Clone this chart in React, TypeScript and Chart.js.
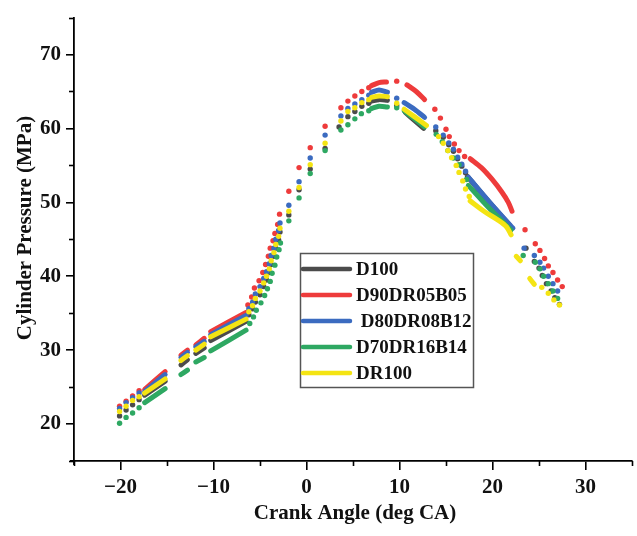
import React, { useEffect, useRef } from "react";
import { Chart, registerables } from "chart.js";

Chart.register(...registerables);

// ---------- data ----------
const SERIES_NAMES = ["D100", "D90DR05B05", " D80DR08B12", "D70DR16B14", "DR100"];

const X_MIN = -25, X_MAX = 35, X_STEP = 5;
const Y_MIN = 15, Y_MAX = 75, Y_STEP = 5;
const X_TITLE = "Crank Angle (deg CA)";
const Y_TITLE = "Cylinder Pressure (MPa)";

// D100 (black)
const d100Dots = [
  [-20.1, 21.1], [-19.4, 21.9], [-18.7, 22.6], [-18.0, 23.3],
  [-6.2, 34.8], [-5.8, 35.6], [-5.5, 36.5], [-5.0, 37.5], [-4.6, 38.6], [-4.3, 39.5], [-4.0, 40.5],
  [-3.8, 41.6], [-3.5, 42.7], [-3.3, 43.8], [-3.0, 44.9], [-2.85, 46.0], [-1.9, 48.3],
  [-0.8, 51.7], [0.4, 54.5], [2.0, 57.3], [3.5, 60.2], [4.45, 61.6], [5.2, 62.3], [5.95, 63.0], [6.7, 63.4],
  [9.7, 63.1],
  [13.9, 59.7], [14.7, 58.8], [15.3, 57.8], [15.8, 56.9], [16.25, 55.9], [16.7, 54.9], [17.1, 54.0],
  [23.6, 43.8], [24.5, 42.0], [25.0, 41.1], [25.35, 40.1], [25.8, 39.0], [26.3, 38.0], [26.7, 37.1], [27.2, 36.2],
];
const d100Runs = [
  [[-17.4, 23.9], [-15.2, 25.8]],
  [[-13.5, 28.0], [-12.8, 28.7]],
  [[-11.9, 29.55], [-11.0, 30.3]],
  [[-10.3, 31.3], [-6.5, 33.9]],
  [[7.0, 63.7], [7.8, 63.9], [8.7, 63.8]],
  [[10.6, 62.2], [11.6, 61.1], [12.6, 60.0]],
  [[17.3, 53.5], [19.6, 50.1], [21.85, 46.9]],
];

// D90DR05B05 (red)
const d90Dots = [
  [-20.1, 22.4], [-19.4, 23.1], [-18.7, 23.8], [-18.0, 24.5],
  [-6.3, 36.1], [-5.9, 37.2], [-5.6, 38.4], [-5.1, 39.4], [-4.7, 40.5], [-4.4, 41.6], [-4.1, 42.7],
  [-3.9, 43.8], [-3.6, 44.8], [-3.4, 45.8], [-3.1, 47.0], [-2.9, 48.4], [-1.9, 51.5],
  [-0.8, 54.7], [0.4, 57.4], [2.0, 60.3], [3.7, 62.8], [4.45, 63.7], [5.2, 64.4], [5.95, 65.0], [6.7, 65.5],
  [9.7, 66.4],
  [13.8, 62.6], [14.4, 61.4], [15.0, 59.9], [15.35, 58.9], [15.9, 57.9], [16.4, 57.0], [17.0, 56.2],
  [23.5, 46.3], [24.6, 44.4], [25.1, 43.5], [25.6, 42.4], [26.0, 41.4], [26.5, 40.5], [27.0, 39.5], [27.5, 38.6],
];
const d90Runs = [
  [[-17.4, 24.7], [-15.2, 27.1]],
  [[-13.5, 29.3], [-12.8, 30.0]],
  [[-11.9, 30.7], [-11.0, 31.6]],
  [[-10.3, 32.5], [-6.5, 35.1]],
  [[7.0, 65.8], [7.8, 66.2], [8.6, 66.3]],
  [[10.8, 65.9], [11.8, 65.0], [12.7, 63.9]],
  [[17.6, 55.9], [18.8, 54.7], [19.9, 53.2], [21.0, 51.4], [21.7, 50.0], [22.1, 48.8]],
];

// D80DR08B12 (blue)
const d80Dots = [
  [-20.1, 22.1], [-19.4, 22.9], [-18.7, 23.55], [-18.0, 24.2],
  [-6.2, 35.6], [-5.8, 36.5], [-5.5, 37.6], [-5.0, 38.6], [-4.6, 39.7], [-4.3, 40.6], [-4.0, 41.7],
  [-3.8, 42.8], [-3.5, 43.8], [-3.3, 45.0], [-3.0, 46.2], [-2.85, 47.2], [-1.9, 49.6],
  [-0.8, 52.8], [0.4, 56.0], [2.0, 59.1], [3.7, 61.7], [4.45, 62.7], [5.2, 63.3], [5.95, 63.9], [6.7, 64.5],
  [9.7, 64.1],
  [13.9, 60.2], [14.7, 59.1], [15.3, 58.05], [15.8, 57.2], [16.25, 56.1], [16.7, 55.15], [17.1, 54.2],
  [23.4, 43.8], [24.5, 42.8], [25.1, 41.9], [25.5, 41.1], [26.0, 40.0], [26.5, 39.0], [27.0, 38.0],
];
const d80Runs = [
  [[-17.4, 24.4], [-15.2, 26.7]],
  [[-13.5, 29.0], [-12.8, 29.7]],
  [[-11.9, 30.45], [-11.0, 31.2]],
  [[-10.3, 32.1], [-6.5, 34.7]],
  [[7.0, 64.9], [7.8, 65.2], [8.7, 64.9]],
  [[10.5, 63.5], [11.6, 62.6], [12.7, 61.5]],
  [[17.4, 53.4], [19.7, 50.0], [22.2, 46.5]],
];

// D70DR16B14 (green)
const d70Dots = [
  [-20.1, 20.1], [-19.4, 20.9], [-18.7, 21.5], [-18.0, 22.2],
  [-6.1, 33.6], [-5.7, 34.5], [-5.4, 35.4], [-4.9, 36.4], [-4.5, 37.4], [-4.2, 38.3], [-3.9, 39.3],
  [-3.7, 40.4], [-3.4, 41.5], [-3.2, 42.6], [-2.95, 43.6], [-2.8, 44.5], [-1.9, 47.5],
  [-0.8, 50.6], [0.4, 53.9], [2.0, 57.0], [3.7, 59.8], [4.45, 60.5], [5.2, 61.3], [5.9, 62.0], [6.7, 62.4],
  [9.7, 62.8],
  [13.95, 59.2], [14.6, 58.2], [15.2, 57.0], [15.8, 56.0], [16.4, 55.1], [17.2, 53.1],
  [23.3, 42.8], [24.6, 41.9], [25.1, 41.0], [25.5, 40.0], [26.0, 39.0], [26.5, 38.0], [27.0, 37.0],
];
const d70Runs = [
  [[-17.4, 22.9], [-15.2, 24.8]],
  [[-13.5, 26.7], [-12.8, 27.3]],
  [[-11.9, 28.4], [-11.0, 29.0]],
  [[-10.3, 29.9], [-6.5, 32.7]],
  [[7.0, 62.7], [7.8, 63.0], [8.7, 62.9]],
  [[10.5, 62.4], [11.6, 61.3], [12.7, 60.2]],
  [[17.4, 52.3], [19.5, 49.4], [22.0, 46.25]],
];

// DR100 (yellow)
const dr100Dots = [
  [-20.1, 21.7], [-19.4, 22.4], [-18.7, 23.2], [-18.0, 23.7],
  [-6.2, 35.2], [-5.8, 36.0], [-5.5, 37.0], [-5.0, 38.0], [-4.6, 39.1], [-4.3, 40.0], [-4.0, 41.0],
  [-3.8, 42.1], [-3.5, 43.2], [-3.3, 44.3], [-3.0, 45.4], [-2.85, 46.5], [-1.9, 48.8],
  [-0.8, 52.0], [0.4, 55.1], [2.0, 58.0], [3.7, 61.0], [4.45, 62.3], [5.2, 62.8], [5.95, 63.5], [6.7, 63.9],
  [9.7, 63.4],
  [14.2, 58.9], [14.7, 58.0], [15.2, 57.0], [15.6, 56.05], [16.1, 55.0], [16.4, 54.05], [16.8, 52.9], [17.1, 51.8], [17.5, 50.8],
  [25.3, 38.5], [26.0, 37.7], [26.6, 36.8], [27.2, 36.1],
];
const dr100Runs = [
  [[-17.4, 24.2], [-15.2, 26.1]],
  [[-13.5, 28.6], [-12.8, 29.25]],
  [[-11.9, 30.0], [-11.0, 30.8]],
  [[-10.3, 31.8], [-6.5, 34.2]],
  [[7.0, 64.2], [7.8, 64.4], [8.7, 64.3]],
  [[10.5, 62.6], [11.6, 61.6], [12.9, 60.4]],
  [[17.6, 50.2], [19.2, 48.7], [20.6, 47.6], [21.5, 46.7], [22.0, 45.6]],
  [[22.55, 42.7], [23.0, 42.1]],
  [[24.0, 39.7], [24.5, 38.9]],
];

const SERIES_DOTS = [d100Dots, d90Dots, d80Dots, d70Dots, dr100Dots];
const SERIES_RUNS = [d100Runs, d90Runs, d80Runs, d70Runs, dr100Runs];

// ---------- styles ----------
const COLORS = ["#4b4b4b", "#ee3b3b", "#3b6bc0", "#2ea862", "#f4e413"];
const SERIF = "'Liberation Serif', 'Times New Roman', serif";

const toPoints = (pts: number[][]) => pts.map(([x, y]) => ({ x, y }));
const toRunPoints = (runs: number[][][]) => {
  const out: { x: number; y: number | null }[] = [];
  runs.forEach((r, i) => {
    if (i > 0) out.push({ x: r[0][0], y: null });
    r.forEach(([x, y]) => out.push({ x, y }));
  });
  return out;
};

const decorPlugin = {
  id: "decor",
  afterDraw(chart: any) {
    const { ctx, chartArea } = chart;
    const xs = chart.scales.x;
    const ys = chart.scales.y;
    ctx.save();
    // axis corner overhang
    ctx.strokeStyle = "#000";
    ctx.lineWidth = 1.8;
    ctx.beginPath();
    ctx.moveTo(chartArea.left - 4, chartArea.bottom);
    ctx.lineTo(chartArea.left, chartArea.bottom);
    ctx.moveTo(chartArea.left, chartArea.bottom);
    ctx.lineTo(chartArea.left, chartArea.bottom + 4);
    ctx.stroke();

    // minor ticks
    ctx.lineWidth = 1.6;
    xs.ticks.forEach((t: any) => {
      if (t.value % 10 !== 0) {
        const px = Math.round(xs.getPixelForValue(t.value)) + 0.5;
        ctx.beginPath();
        ctx.moveTo(px, chartArea.bottom);
        ctx.lineTo(px, chartArea.bottom + 5);
        ctx.stroke();
      }
    });
    ys.ticks.forEach((t: any) => {
      if (t.value % 10 !== 0) {
        const py = Math.round(ys.getPixelForValue(t.value)) + 0.5;
        ctx.beginPath();
        ctx.moveTo(chartArea.left, py);
        ctx.lineTo(chartArea.left - 5, py);
        ctx.stroke();
      }
    });

    // axis titles
    ctx.fillStyle = "#111";
    ctx.font = `bold 21px ${SERIF}`;
    ctx.textAlign = "center";
    ctx.textBaseline = "middle";
    ctx.fillText(X_TITLE, 355, 514);
    ctx.save();
    ctx.translate(26, 228);
    ctx.rotate(-Math.PI / 2);
    ctx.fillText(Y_TITLE, 0, 0);
    ctx.restore();

    // legend
    const bx = 300.5, by = 253.5, bw = 173, bh = 134;
    ctx.strokeStyle = "#555";
    ctx.lineWidth = 1.5;
    ctx.strokeRect(bx, by, bw, bh);
    const rowY0 = 269, rowDy = 26;
    ctx.font = `bold 19px ${SERIF}`;
    ctx.textAlign = "left";
    SERIES_NAMES.forEach((name, i) => {
      const ry = rowY0 + i * rowDy;
      ctx.strokeStyle = COLORS[i];
      ctx.lineWidth = 4.5;
      ctx.lineCap = "round";
      ctx.beginPath();
      ctx.moveTo(303, ry);
      ctx.lineTo(350, ry);
      ctx.stroke();
      ctx.fillStyle = "#111";
      ctx.fillText(name, 356, ry + 1);
    });
    ctx.restore();
  },
};

export default function App() {
  const canvasRef = useRef<HTMLCanvasElement | null>(null);

  useEffect(() => {
    if (!canvasRef.current) return;
    const datasets: any[] = [];
    SERIES_NAMES.forEach((name, i) => {
      datasets.push({
        type: "line",
        label: name.trim() + " runs",
        data: toRunPoints(SERIES_RUNS[i]),
        borderColor: COLORS[i],
        backgroundColor: COLORS[i],
        borderWidth: 5,
        borderCapStyle: "round",
        borderJoinStyle: "round",
        pointRadius: 0,
        showLine: true,
        spanGaps: false,
        tension: 0.3,
        fill: false,
        order: (5 - i) * 2,
      });
      datasets.push({
        type: "scatter",
        label: name.trim(),
        data: toPoints(SERIES_DOTS[i]),
        backgroundColor: COLORS[i],
        borderColor: COLORS[i],
        borderWidth: 0,
        pointRadius: 2.7,
        pointHoverRadius: 2.7,
        showLine: false,
        order: (5 - i) * 2,
      });
    });

    const tickFont = { family: SERIF, size: 21, weight: "bold" as const };

    const chart = new Chart(canvasRef.current, {
      type: "scatter",
      data: { datasets },
      plugins: [decorPlugin],
      options: {
        animation: false,
        responsive: false,
        devicePixelRatio: 1,
        layout: { padding: { left: 0, right: 3, top: 11, bottom: 0 } },
        plugins: {
          legend: { display: false },
          tooltip: { enabled: false },
          title: { display: false },
        },
        scales: {
          x: {
            type: "linear",
            min: X_MIN,
            max: X_MAX,
            afterFit: (s: any) => { s.height = 75; },
            border: { display: true, color: "#000", width: 1.8 },
            grid: {
              display: true,
              drawOnChartArea: false,
              drawTicks: true,
              tickLength: 9,
              lineWidth: 1.6,
              color: (c: any) => (c.tick && c.tick.value % 10 === 0 ? "#000" : "rgba(0,0,0,0)"),
            },
            ticks: {
              stepSize: X_STEP,
              autoSkip: false,
              maxRotation: 0,
              padding: 5,
              color: "#111",
              font: tickFont,
              callback: (v: any) => (v % 10 === 0 ? (v < 0 ? "\u2212" + Math.abs(v) : String(v)) : ""),
            },
          },
          y: {
            type: "linear",
            min: Y_MIN,
            max: Y_MAX,
            afterFit: (s: any) => { s.width = 74; },
            border: { display: true, color: "#000", width: 1.8 },
            grid: {
              display: true,
              drawOnChartArea: false,
              drawTicks: true,
              tickLength: 8,
              lineWidth: 1.6,
              color: (c: any) => (c.tick && c.tick.value % 10 === 0 ? "#000" : "rgba(0,0,0,0)"),
            },
            ticks: {
              stepSize: Y_STEP,
              autoSkip: false,
              padding: 5,
              color: "#111",
              font: tickFont,
              callback: (v: any) => (v % 10 === 0 ? String(v) : ""),
            },
          },
        },
      } as any,
    });
    return () => chart.destroy();
  }, []);

  return (
    <div style={{ position: "absolute", left: 0, top: 0, width: 637, height: 536, background: "#fff" }}>
      <canvas ref={canvasRef} width={637} height={536} style={{ display: "block" }} />
    </div>
  );
}
